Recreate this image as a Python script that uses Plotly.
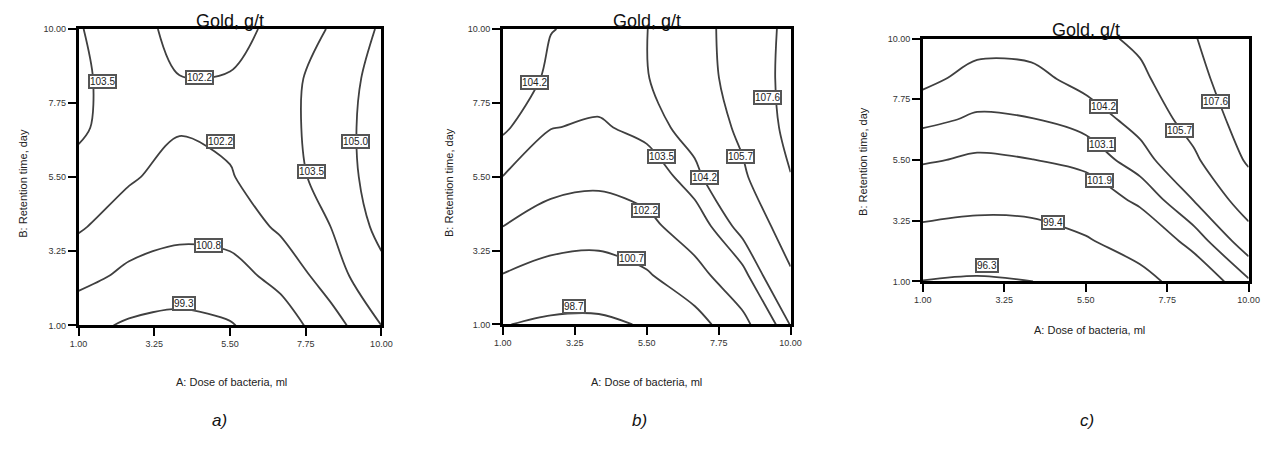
import plotly.graph_objects as go

# ---- grid nodes (A: dose of bacteria, B: retention time) ----
dose = [1.0, 2.5, 4.0, 5.5, 7.0, 8.5, 10.0]
days = [1.0, 2.5, 4.0, 5.5, 7.0, 8.5, 10.0]
tick_values = [1.00, 3.25, 5.50, 7.75, 10.00]

# ---- gold content, g/t (rows follow `days`, columns follow `dose`) ----
gold_a = [
    [99.75, 99.10, 98.90, 99.20, 100.10, 101.60, 103.50],
    [101.25, 100.50, 100.10, 100.30, 101.20, 102.90, 104.55],
    [102.35, 101.50, 101.20, 101.30, 102.44, 103.51, 105.44],
    [103.20, 102.35, 101.70, 102.13, 102.80, 104.11, 105.72],
    [103.65, 103.00, 102.30, 102.40, 102.95, 104.28, 105.70],
    [103.70, 103.00, 102.22, 102.24, 102.95, 104.16, 105.56],
    [103.60, 102.60, 101.90, 101.95, 102.40, 103.62, 105.20],
]
gold_b = [
    [98.77, 98.38, 98.35, 98.85, 100.10, 101.80, 104.25],
    [100.65, 100.10, 100.00, 100.55, 101.70, 103.23, 105.53],
    [102.22, 101.60, 101.41, 101.84, 102.97, 104.54, 106.50],
    [103.49, 102.69, 102.52, 102.90, 103.96, 105.46, 107.55],
    [104.33, 103.53, 103.37, 103.80, 104.60, 106.03, 108.10],
    [104.75, 104.05, 103.97, 104.15, 105.05, 106.33, 108.20],
    [105.00, 104.22, 104.05, 104.18, 105.13, 106.40, 108.08],
]
gold_c = [
    [96.24, 96.00, 96.27, 97.30, 98.60, 100.62, 102.95],
    [98.51, 98.19, 98.34, 99.18, 100.49, 102.46, 104.97],
    [100.43, 100.10, 100.20, 100.86, 102.19, 104.24, 106.49],
    [102.08, 101.67, 101.87, 102.34, 103.72, 105.44, 107.84],
    [103.38, 102.94, 103.06, 103.57, 104.65, 106.35, 108.50],
    [104.49, 103.80, 103.85, 104.60, 105.37, 107.00, 109.00],
    [105.40, 104.65, 104.70, 105.20, 106.01, 107.50, 109.30],
]

levels_a = [99.3, 100.8, 102.2, 103.5, 105.0]
levels_b = [98.7, 100.7, 102.2, 103.5, 104.2, 105.7, 107.6]
levels_c = [96.3, 99.4, 101.9, 103.1, 104.2, 105.7, 107.6]

panel_letters = ["a)", "b)", "c)"]
chart_title = "Gold, g/t"
x_title = "A: Dose of bacteria, ml"
y_title = "B: Retention time, day"

# ---- where each contour label box sits: (index into levels, A, B) ----
label_spots_a = [(0, 4.13, 1.67), (1, 4.86, 3.43), (2, 5.23, 6.57), (2, 4.60, 8.53),
                 (3, 1.71, 8.40), (3, 7.91, 5.67), (4, 9.24, 6.57)]
label_spots_b = [(0, 3.23, 1.56), (1, 5.03, 3.01), (2, 5.46, 4.47), (3, 5.95, 6.13),
                 (4, 1.99, 8.38), (4, 7.30, 5.49), (5, 8.43, 6.12), (6, 9.29, 7.91)]
label_spots_c = [(0, 2.78, 1.58), (1, 4.59, 3.20), (2, 5.89, 4.74), (3, 5.94, 6.07),
                 (4, 5.99, 7.47), (5, 8.09, 6.58), (6, 9.09, 7.65)]

FONT = "Liberation Sans, Arial, Helvetica, sans-serif"
W, H = 1280, 450
LINE = "#404040"

# plot-area boxes in pixels: (left, right, top, bottom)
boxes = [(70.7, 378.3, 24.5, 327.7), (501.7, 794.0, 24.5, 326.7), (928.3, 1259.3, 34.3, 282.7)]

panels = [
    (gold_a, levels_a, label_spots_a),
    (gold_b, levels_b, label_spots_b),
    (gold_c, levels_c, label_spots_c),
]

fig = go.Figure()
annotations = []

for i, (grid, levels, spots) in enumerate(panels):
    xa = "x" if i == 0 else f"x{i + 1}"
    ya = "y" if i == 0 else f"y{i + 1}"
    for lv in levels:
        fig.add_trace(go.Contour(
            x=dose, y=days, z=grid,
            xaxis=xa, yaxis=ya,
            autocontour=False,
            contours=dict(start=lv, end=lv, size=1, coloring="none", showlabels=False),
            line=dict(color=LINE, width=1.8, smoothing=0.9),
            showscale=False, hoverinfo="skip",
        ))
    for idx, a, b in spots:
        annotations.append(dict(
            x=a, y=b, xref=xa, yref=ya, text=f"{levels[idx]:.1f}", showarrow=False,
            font=dict(family=FONT, size=10, color="#222222"),
            bgcolor="white", bordercolor="#555555", borderwidth=2, borderpad=0,
        ))

    left, right, top, bottom = boxes[i]
    dom_x = [left / W, right / W]
    dom_y = [1 - bottom / H, 1 - top / H]
    axis_common = dict(
        range=[1, 10], tickvals=tick_values, tickformat=".2f",
        ticks="outside", ticklen=8, tickwidth=2, tickcolor="black",
        showline=True, linewidth=2.5, linecolor="black", mirror=True,
        showgrid=False, zeroline=False,
        tickfont=dict(family=FONT, size=9, color="#333333"),
    )
    key = "" if i == 0 else str(i + 1)
    fig.update_layout(**{
        f"xaxis{key}": dict(domain=dom_x, anchor=ya, **axis_common),
        f"yaxis{key}": dict(domain=dom_y, anchor=xa, **axis_common),
    })

    cx = (left + right) / 2
    # panel title
    annotations.append(dict(
        x=cx / W, y=1 - (top - 8.5) / H, xref="paper", yref="paper",
        text=chart_title, showarrow=False, xanchor="center", yanchor="middle",
        font=dict(family=FONT, size=18, color="#111111"),
    ))

# axis titles and panel letters
x_title_pos = [(226, 386), (648, 386), (1098, 332)]
y_title_pos = [(14, 182), (447, 182), (868, 160)]
letter_pos = [(214, 425), (641, 425), (1095, 425)]
for (xx, xy), (yx, yy), (lx, ly), letter in zip(x_title_pos, y_title_pos, letter_pos, panel_letters):
    annotations.append(dict(
        x=xx / W, y=1 - xy / H, xref="paper", yref="paper", text=x_title, showarrow=False,
        xanchor="center", yanchor="middle", font=dict(family=FONT, size=11, color="#222222"),
    ))
    annotations.append(dict(
        x=yx / W, y=1 - yy / H, xref="paper", yref="paper", text=y_title, showarrow=False,
        textangle=-90, xanchor="center", yanchor="middle",
        font=dict(family=FONT, size=11, color="#222222"),
    ))
    annotations.append(dict(
        x=lx / W, y=1 - ly / H, xref="paper", yref="paper", text=f"<i>{letter}</i>",
        showarrow=False, xanchor="center", yanchor="middle",
        font=dict(family=FONT, size=17, color="#111111"),
    ))

fig.update_layout(
    width=W, height=H, margin=dict(l=0, r=0, t=0, b=0),
    paper_bgcolor="white", plot_bgcolor="white", showlegend=False,
    annotations=annotations,
)

fig.write_html("out.html")
